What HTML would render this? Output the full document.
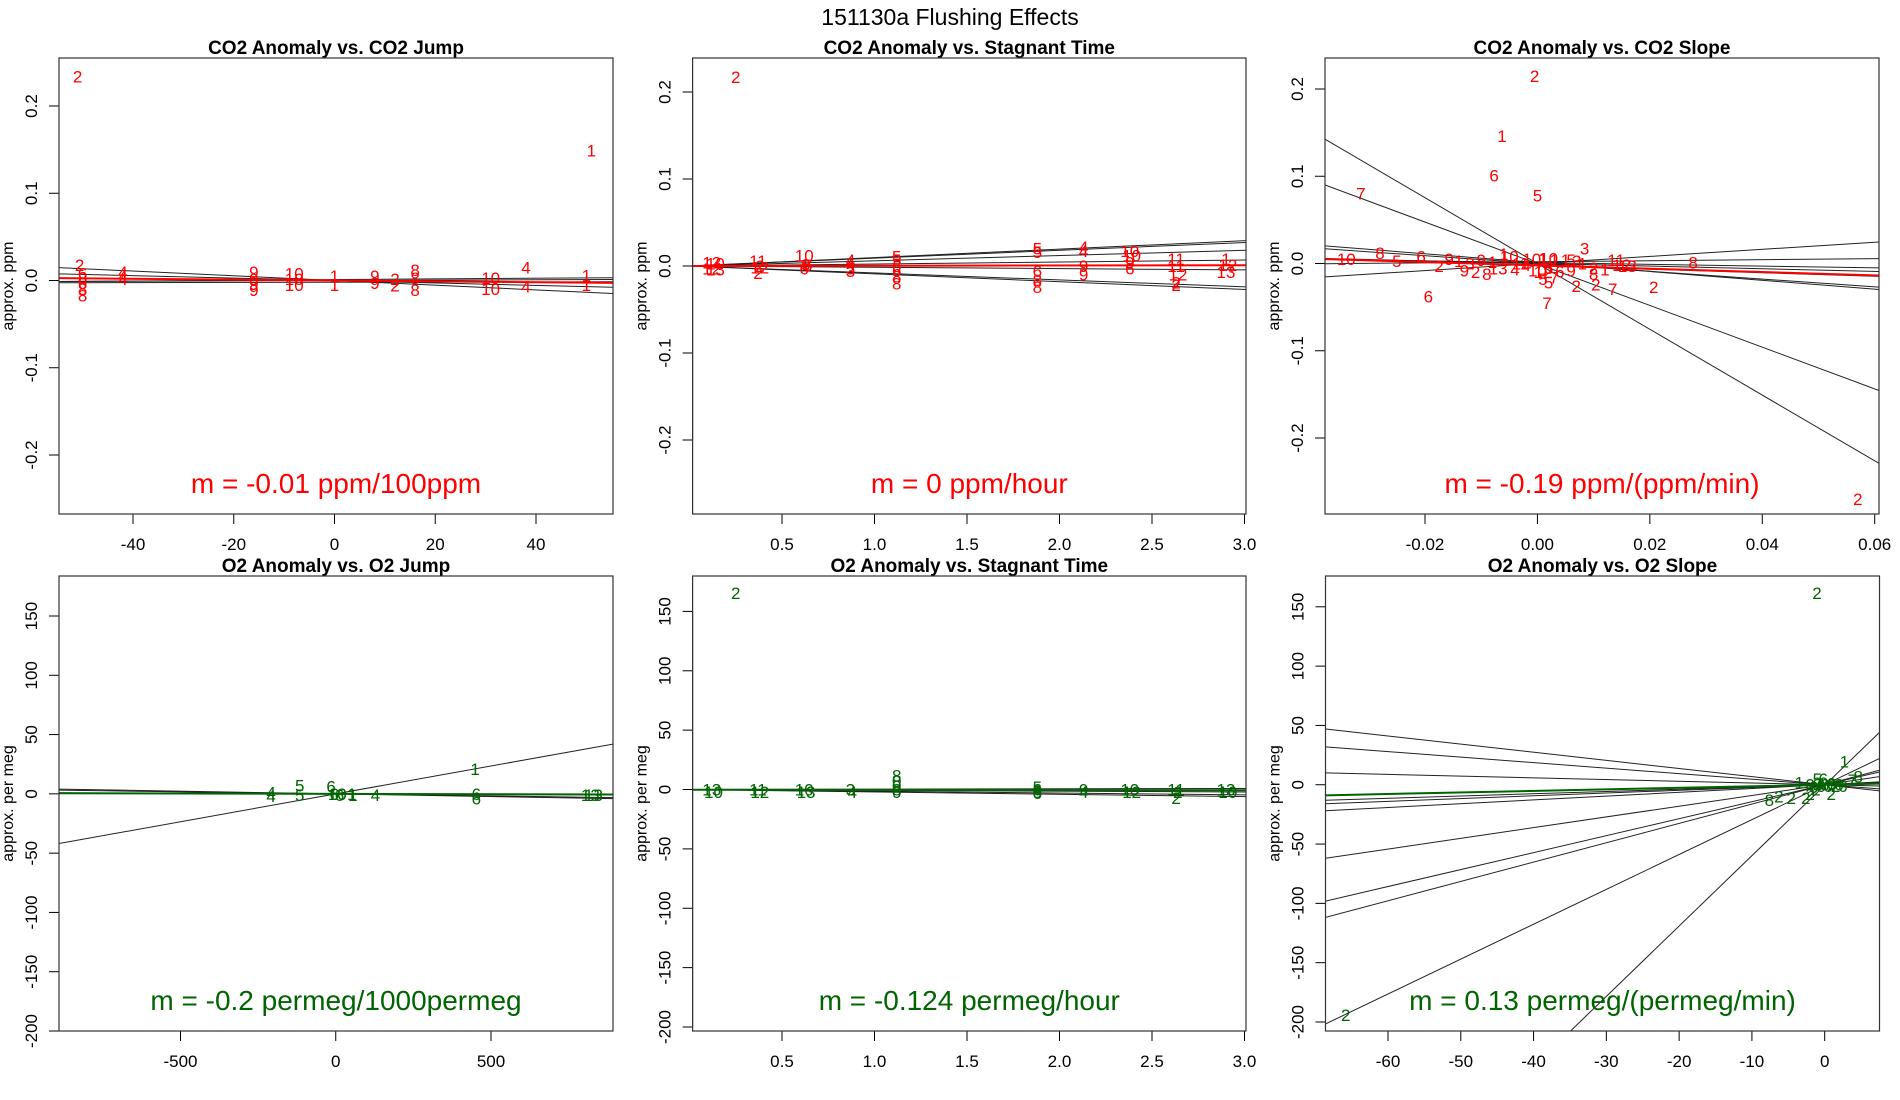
<!DOCTYPE html>
<html><head><meta charset="utf-8">
<style>
html,body{margin:0;padding:0;background:#fff;overflow:hidden;width:1900px;height:1100px;}
svg{display:block;font-family:"Liberation Sans",sans-serif;}
</style></head>
<body>
<svg id="fig" width="1900" height="1100" viewBox="0 0 1900 1100" xmlns="http://www.w3.org/2000/svg">
<rect width="1900" height="1100" fill="#fff"/>
<text x="950" y="25" font-size="23" text-anchor="middle">151130a   Flushing Effects</text>
</svg>
<script>
// ---- Panel 1: CO2 Anomaly vs CO2 Jump ----
const p1X=[-51,-50.6,-50,-50,-50,-50,-50,-42,-42,-42,-16,-16,-16,-16,-8,-8,-8,0,0,8,8,12,12,16,16,16,31,31,38,38,50,50,51];
const p1Y=[0.234,0.018,0.008,0.003,-0.003,-0.01,-0.017,0.01,0.005,0.002,0.01,0.002,-0.004,-0.011,0.008,0.002,-0.005,0.005,-0.005,0.005,-0.003,0.002,-0.006,0.012,0.003,-0.011,0.003,-0.01,0.015,-0.007,0.006,-0.005,0.149];
const p1Lab=["2","2","6","8","6","8","8","4","4","4","9","9","9","9","10","10","10","1","1","9","9","2","2","8","8","8","10","10","4","4","1","1","1"];
const p1LineA=[0,0,0.001,0,-0.002];
const p1LineB=[-0.00027,-0.00014,0.00004,0.00002,0.00001];
const p1FitA=0, p1FitB=-0.00005;
const p1XTicks=[-40,-20,0,20,40];
const p1XTickLab=["-40","-20","0","20","40"];
const p1YTicks=[-0.2,-0.1,0,0.1,0.2];
const p1YTickLab=["-0.2","-0.1","0.0","0.1","0.2"];

// ---- Panel 2: CO2 Anomaly vs Stagnant Time ----
const p2X=[0.25,0.12,0.14,0.12,0.14,0.37,0.38,0.37,0.38,0.62,0.63,0.62,0.64,0.87,0.87,0.87,0.87,1.12,1.12,1.12,1.12,1.12,1.12,1.88,1.88,1.88,1.88,1.88,2.13,2.13,2.13,2.13,2.38,2.39,2.38,2.38,2.63,2.63,2.64,2.63,2.63,2.9,2.91,2.9];
const p2Y=[0.217,0.004,0.003,-0.003,-0.004,0.006,-0.002,-0.008,0.0,0.012,0.002,-0.003,0.001,0.007,0.003,-0.003,-0.006,0.011,0.007,0.0,-0.005,-0.012,-0.02,0.02,0.016,-0.006,-0.016,-0.024,0.022,0.017,0.0,-0.01,0.017,0.012,0.004,-0.003,0.008,0.0,-0.01,-0.019,-0.022,0.008,0.001,-0.007];
const p2Lab=["2","13","10","12","13","11","12","2","2","10","9","6","6","4","4","5","3","5","5","6","6","8","8","5","5","6","8","8","4","4","9","9","10","10","9","6","11","11","12","2","2","1","12","13"];
const p2LineA=[0,0,0,0,0,0,0];
const p2LineB=[0.0097,0.009,0.006,0.0023,-0.0015,-0.008,-0.009];
const p2FitA=0, p2FitB=0.0003;
const p2XTicks=[0.5,1.0,1.5,2.0,2.5,3.0];
const p2XTickLab=["0.5","1.0","1.5","2.0","2.5","3.0"];
const p2YTicks=[-0.2,-0.1,0,0.1,0.2];
const p2YTickLab=["-0.2","-0.1","0.0","0.1","0.2"];

// ---- Panel 3: CO2 Anomaly vs CO2 Slope ----
const p3X=[-0.0005,-0.0063,-0.0077,0.0,-0.0314,-0.034,-0.028,-0.025,-0.0207,-0.0157,-0.0175,-0.0194,0.0017,0.0069,0.0104,0.0134,0.0207,0.0277,0.057,0.0084,-0.014,-0.013,-0.011,-0.009,-0.012,-0.01,-0.008,-0.006,-0.005,-0.007,-0.004,-0.003,-0.001,0.001,0.002,0.003,0.0,0.001,0.002,0.001,0.002,0.003,0.005,0.006,0.007,0.006,0.008,0.01,0.01,0.012,0.014,0.015,0.016,-0.002,0.004];
const p3Y=[0.215,0.146,0.101,0.078,0.08,0.005,0.012,0.003,0.008,0.005,-0.003,-0.038,-0.045,-0.026,-0.024,-0.029,-0.027,0.001,-0.27,0.017,0.003,-0.008,-0.01,-0.012,0.0,0.004,0.002,0.011,0.008,-0.006,-0.007,0.0,0.005,0.006,0.006,0.004,-0.008,-0.01,-0.005,-0.018,-0.022,-0.016,0.004,0.004,0.003,-0.008,0.0,-0.005,-0.012,-0.007,0.004,-0.002,-0.003,-0.002,-0.009];
const p3Lab=["2","1","6","5","7","10","8","5","6","9","2","6","7","2","2","7","2","8","2","3","1","9","2","8","3","9","1","1","10","13","4","11","10","1","10","1","10","12","6","5","5","7","1","5","3","9","1","2","8","1","11","12","13","4","6"];
const p3LineA=[0,-0.0003,0.001,0,-0.0026,0,0.002,0,0.001];
const p3LineB=[-3.77,-2.39,-0.507,-0.446,-0.2,0.406,0.06,-0.15,-0.1];
const p3FitA=-0.0022, p3FitB=-0.19;
const p3XTicks=[-0.02,0,0.02,0.04,0.06];
const p3XTickLab=["-0.02","0.00","0.02","0.04","0.06"];
const p3YTicks=[-0.2,-0.1,0,0.1,0.2];
const p3YTickLab=["-0.2","-0.1","0.0","0.1","0.2"];

// ---- Panel 4: O2 Anomaly vs O2 Jump ----
const p4X=[449,-116,-116,-15,-208,-208,-5,5,12,20,52,55,128,453,453,820,830];
const p4Y=[21,7,-1,6,1,-2,0,0,-1,0,0,-1,-1,0,-4,-1,-1];
const p4Lab=["1","5","5","6","4","4","6","10","6","0","1","1","4","6","6","13","13"];
const p4LineA=[0,0,0,0];
const p4LineB=[0.047,-0.0045,-0.001,-0.0035];
const p4FitA=0, p4FitB=-0.0006;
const p4XTicks=[-500,0,500];
const p4XTickLab=["-500","0","500"];
const p4YTicks=[-200,-150,-100,-50,0,50,100,150];
const p4YTickLab=["-200","-150","-100","-50","0","50","100","150"];

// ---- Panel 5: O2 Anomaly vs Stagnant Time ----
const p5X=[0.25,0.12,0.37,0.62,0.87,1.12,1.88,2.13,2.38,2.63,2.9,0.13,0.38,0.63,0.88,1.12,1.88,2.13,2.39,2.64,2.91,1.12,1.12,1.12,2.63,1.88,1.88];
const p5Y=[165.6,0,0,0,0,0,0,0,0,0,0,-2,-2,-2,-2,-2,-2,-2,-2,-2,-2,12,7,3,-7,2,-3];
const p5Lab=["2","13","11","10","3","8","6","9","10","11","13","10","12","13","4","0","5","4","12","2","10","8","0","0","2","5","6"];
const p5LineA=[0,0,0,0];
const p5LineB=[0.3,-0.7,-2,-1.5];
const p5FitA=-0.2, p5FitB=-0.124;
const p5XTicks=[0.5,1.0,1.5,2.0,2.5,3.0];
const p5XTickLab=["0.5","1.0","1.5","2.0","2.5","3.0"];
const p5YTicks=[-200,-150,-100,-50,0,50,100,150];
const p5YTickLab=["-200","-150","-100","-50","0","50","100","150"];

// ---- Panel 6: O2 Anomaly vs O2 Slope ----
const p6X=[-1.06,-65.8,2.7,4.6,3.8,-7.6,-6.3,-4.6,-2.6,-2,0.9,-1,-0.2,-3.5,-2,-1.5,-1,-0.5,0,0.5,1,1.5,2,2.5,-1.2,0.3];
const p6Y=[161.5,-194,19.6,7,4,-13,-10,-11,-11,-8,-8,5,5,2,0,-2,0,-1,0,-1,0,-1,0,-1,-4,1];
const p6Lab=["2","2","1","8","7","8","2","2","2","2","2","5","6","1","0","0","3","0","6","0","0","2","0","6","2","10"];
const p6LineA=[0,0,0,0,0,0,0,0,0,0,-0.5];
const p6LineB=[-0.685,-0.466,-0.146,0.19,0.233,0.32,0.904,1.43,1.63,2.94,5.93];
const p6FitA=0, p6FitB=0.13;
const p6XTicks=[-60,-50,-40,-30,-20,-10,0];
const p6XTickLab=["-60","-50","-40","-30","-20","-10","0"];
const p6YTicks=[-200,-150,-100,-50,0,50,100,150];
const p6YTickLab=["-200","-150","-100","-50","0","50","100","150"];

const NS="http://www.w3.org/2000/svg";
const svg=document.getElementById('fig');
function mk(tag,attrs,parent){const e=document.createElementNS(NS,tag);for(const k in attrs)e.setAttribute(k,attrs[k]);(parent||svg).appendChild(e);return e;}

const RED="#ff0000", GREEN="#006400";
const panels=[
 {id:"co2-jump",title:"CO2 Anomaly vs. CO2 Jump",ylab:"approx. ppm",m:"m = -0.01 ppm/100ppm",col:RED,box:[59,58,613,514],xm:[-40,133,40,536],ym:[0.2,106,-0.2,455],X:p1X,Y:p1Y,L:p1Lab,A:p1LineA,B:p1LineB,fa:p1FitA,fb:p1FitB,xt:p1XTicks,xl:p1XTickLab,yt:p1YTicks,yl:p1YTickLab},
 {id:"co2-stagnant",title:"CO2 Anomaly vs. Stagnant Time",ylab:"approx. ppm",m:"m = 0 ppm/hour",col:RED,box:[692.6,58,1246,514],xm:[0.5,782,3.0,1244.5],ym:[0.2,92,-0.2,440],X:p2X,Y:p2Y,L:p2Lab,A:p2LineA,B:p2LineB,fa:p2FitA,fb:p2FitB,xt:p2XTicks,xl:p2XTickLab,yt:p2YTicks,yl:p2YTickLab},
 {id:"co2-slope",title:"CO2 Anomaly vs. CO2 Slope",ylab:"approx. ppm",m:"m = -0.19 ppm/(ppm/min)",col:RED,box:[1325,58,1879,514],xm:[-0.02,1425,0.06,1874.7],ym:[0.2,89,-0.2,438],X:p3X,Y:p3Y,L:p3Lab,A:p3LineA,B:p3LineB,fa:p3FitA,fb:p3FitB,xt:p3XTicks,xl:p3XTickLab,yt:p3YTicks,yl:p3YTickLab},
 {id:"o2-jump",title:"O2 Anomaly vs. O2 Jump",ylab:"approx. per meg",m:"m = -0.2 permeg/1000permeg",col:GREEN,box:[59,576,613,1031],xm:[-500,180.5,500,491],ym:[150,616,-200,1031],X:p4X,Y:p4Y,L:p4Lab,A:p4LineA,B:p4LineB,fa:p4FitA,fb:p4FitB,xt:p4XTicks,xl:p4XTickLab,yt:p4YTicks,yl:p4YTickLab},
 {id:"o2-stagnant",title:"O2 Anomaly vs. Stagnant Time",ylab:"approx. per meg",m:"m = -0.124 permeg/hour",col:GREEN,box:[692.6,576,1246,1031],xm:[0.5,782,3.0,1244.5],ym:[150,611.4,-200,1027],X:p5X,Y:p5Y,L:p5Lab,A:p5LineA,B:p5LineB,fa:p5FitA,fb:p5FitB,xt:p5XTicks,xl:p5XTickLab,yt:p5YTicks,yl:p5YTickLab},
 {id:"o2-slope",title:"O2 Anomaly vs. O2 Slope",ylab:"approx. per meg",m:"m = 0.13 permeg/(permeg/min)",col:GREEN,box:[1325.5,576,1879.5,1031],xm:[-60,1388,0,1824.7],ym:[150,606.8,-200,1022],X:p6X,Y:p6Y,L:p6Lab,A:p6LineA,B:p6LineB,fa:p6FitA,fb:p6FitB,xt:p6XTicks,xl:p6XTickLab,yt:p6YTicks,yl:p6YTickLab}
];

const defs=mk('defs',{});
panels.forEach((p,pi)=>{
  const [x0,y0,x1,y1]=p.box;
  const sx=v=>p.xm[1]+(v-p.xm[0])*(p.xm[3]-p.xm[1])/(p.xm[2]-p.xm[0]);
  const sy=v=>p.ym[1]+(v-p.ym[0])*(p.ym[3]-p.ym[1])/(p.ym[2]-p.ym[0]);
  const inv=px=>p.xm[0]+(px-p.xm[1])*(p.xm[2]-p.xm[0])/(p.xm[3]-p.xm[1]);
  const xmin=inv(x0), xmax=inv(x1);
  const cp=mk('clipPath',{id:'clip'+pi},defs);
  mk('rect',{x:x0,y:y0,width:x1-x0,height:y1-y0},cp);
  const g=mk('g',{});
  
  
  const t=mk('text',{x:(x0+x1)/2,y:y0-4,'font-size':19,'font-weight':'bold','text-anchor':'middle'},g);
  t.textContent=p.title;
  
  
  const yl=mk('text',{x:x0-46,y:(y0+y1)/2,'font-size':16,'text-anchor':'middle',transform:`rotate(-90 ${x0-46} ${(y0+y1)/2})`},g);
  yl.textContent=p.ylab;
  
  
  const xa=mk('g',{stroke:'#000','stroke-width':1},g);
  
  
  mk('line',{x1:sx(p.xt[0]),y1:y1,x2:sx(p.xt[p.xt.length-1]),y2:y1},xa);
  p.xt.forEach((v,i)=>{
    mk('line',{x1:sx(v),y1:y1,x2:sx(v),y2:y1+10},xa);
    const tl=mk('text',{x:sx(v),y:y1+36,'font-size':17,'text-anchor':'middle',stroke:'none',fill:'#000'},g);
    tl.textContent=p.xl[i];
    
    
  });
  const ya=mk('g',{stroke:'#000','stroke-width':1},g);
  
  
  mk('line',{x1:x0,y1:sy(p.yt[0]),x2:x0,y2:sy(p.yt[p.yt.length-1])},ya);
  p.yt.forEach((v,i)=>{
    mk('line',{x1:x0-10,y1:sy(v),x2:x0,y2:sy(v)},ya);
    const tx=x0-22, ty=sy(v);
    const tl=mk('text',{x:tx,y:ty,'font-size':17,'text-anchor':'middle',transform:`rotate(-90 ${tx} ${ty})`},g);
    tl.textContent=p.yl[i];
    
    
  });
  const plot=mk('g',{'clip-path':`url(#clip${pi})`},g);
  
  
  p.A.forEach((a,i)=>{
    const b=p.B[i];
    const ln=mk('line',{x1:x0,y1:sy(a+b*xmin),x2:x1,y2:sy(a+b*xmax),stroke:'#222','stroke-width':1},plot);
    
    
  });
  const fit=mk('line',{x1:x0,y1:sy(p.fa+p.fb*xmin),x2:x1,y2:sy(p.fa+p.fb*xmax),stroke:p.col,'stroke-width':2},plot);
  
  
  p.X.forEach((v,i)=>{
    const pt=mk('text',{x:sx(v),y:sy(p.Y[i])+6,'font-size':17,fill:p.col,'text-anchor':'middle'},plot);
    pt.textContent=p.L[i];
    
    
  });
  const mt=mk('text',{x:(x0+x1)/2,y:y1-21,'font-size':28,fill:p.col,'text-anchor':'middle'},g);
  mt.textContent=p.m;
  
  
  const fr=mk('rect',{x:x0,y:y0,width:x1-x0,height:y1-y0,fill:'none',stroke:'#333','stroke-width':1.2},g);
  
  
});
</script>
</body></html>
